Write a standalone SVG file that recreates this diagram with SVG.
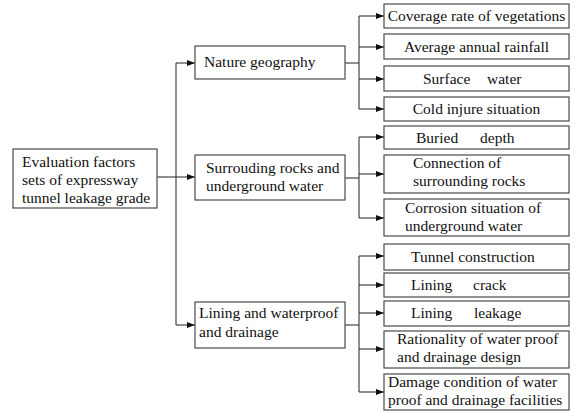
<svg xmlns="http://www.w3.org/2000/svg" width="574" height="412" viewBox="0 0 574 412">
<style>
.box{fill:#fff;stroke:#4a4a4a;stroke-width:1.2}
.t{font-family:'Liberation Serif','Times New Roman',Times,'DejaVu Serif',serif;font-size:15.5px;fill:#111}
.c{text-anchor:middle}
.ln{stroke:#333;stroke-width:1.1;fill:none}
.ar{stroke:#333;stroke-width:1.1;fill:none;marker-end:url(#ah)}
</style>
<defs>
<marker id="ah" markerUnits="userSpaceOnUse" markerWidth="9" markerHeight="7" refX="8" refY="3" orient="auto">
<path d="M0,0 L8,3 L0,6 z" fill="#111"/>
</marker>
</defs>
<g id="connectors">
<line class="ln" x1="157" y1="177" x2="176" y2="177"/>
<line class="ln" x1="176" y1="63" x2="176" y2="325"/>
<line class="ar" x1="176" y1="63" x2="195" y2="63"/>
<line class="ar" x1="176" y1="177" x2="195" y2="177"/>
<line class="ar" x1="176" y1="325" x2="195" y2="325"/>
<line class="ln" x1="345" y1="63" x2="359" y2="63"/>
<line class="ln" x1="359" y1="16" x2="359" y2="109"/>
<line class="ar" x1="359" y1="16" x2="384" y2="16"/>
<line class="ar" x1="359" y1="47" x2="384" y2="47"/>
<line class="ar" x1="359" y1="79" x2="384" y2="79"/>
<line class="ar" x1="359" y1="109" x2="384" y2="109"/>
<line class="ln" x1="345" y1="178" x2="359" y2="178"/>
<line class="ln" x1="359" y1="137" x2="359" y2="218"/>
<line class="ar" x1="359" y1="137" x2="384" y2="137"/>
<line class="ar" x1="359" y1="174" x2="384" y2="174"/>
<line class="ar" x1="359" y1="218" x2="384" y2="218"/>
<line class="ln" x1="345" y1="325" x2="359" y2="325"/>
<line class="ln" x1="359" y1="256" x2="359" y2="392"/>
<line class="ar" x1="359" y1="256" x2="384" y2="256"/>
<line class="ar" x1="359" y1="285" x2="384" y2="285"/>
<line class="ar" x1="359" y1="313" x2="384" y2="313"/>
<line class="ar" x1="359" y1="349" x2="384" y2="349"/>
<line class="ar" x1="359" y1="392" x2="384" y2="392"/>
</g>
<g id="root">
<rect class="box" x="13" y="149" width="144" height="59"/>
<text class="t" x="22" y="167">Evaluation factors</text>
<text class="t" x="22" y="185">sets of expressway</text>
<text class="t" x="22" y="203">tunnel leakage grade</text>
</g>
<g id="nature">
<rect class="box" x="195" y="46" width="150" height="33"/>
<text class="t" x="204" y="67">Nature geography</text>
</g>
<g id="rocks">
<rect class="box" x="195" y="155" width="150" height="45"/>
<text class="t" x="206" y="173">Surrouding rocks and</text>
<text class="t" x="206" y="191">underground water</text>
</g>
<g id="lining">
<rect class="box" x="195" y="302" width="150" height="46"/>
<text class="t" x="199" y="318">Lining and waterproof</text>
<text class="t" x="199" y="337">and drainage</text>
</g>
<g id="leaf1">
<rect class="box" x="384" y="4" width="185" height="24"/>
<text class="t c" x="476.5" y="21">Coverage rate of vegetations</text>
</g>
<g id="leaf2">
<rect class="box" x="384" y="34" width="185" height="25"/>
<text class="t c" x="476.5" y="52">Average annual rainfall</text>
</g>
<g id="leaf3">
<rect class="box" x="384" y="66" width="185" height="25"/>
<text class="t" y="84"><tspan x="423">Surface</tspan><tspan x="487">water</tspan></text>
</g>
<g id="leaf4">
<rect class="box" x="384" y="97" width="185" height="24"/>
<text class="t c" x="476.5" y="114">Cold injure situation</text>
</g>
<g id="leaf5">
<rect class="box" x="384" y="126" width="185" height="23"/>
<text class="t" y="143"><tspan x="416">Buried</tspan><tspan x="480">depth</tspan></text>
</g>
<g id="leaf6">
<rect class="box" x="384" y="155" width="185" height="38"/>
<text class="t" x="413" y="168">Connection of</text>
<text class="t" x="413" y="186">surrounding rocks</text>
</g>
<g id="leaf7">
<rect class="box" x="384" y="199" width="185" height="37"/>
<text class="t" x="405" y="213">Corrosion situation of</text>
<text class="t" x="405" y="231">underground water</text>
</g>
<g id="leaf8">
<rect class="box" x="384" y="244" width="185" height="26"/>
<text class="t" x="411" y="262">Tunnel construction</text>
</g>
<g id="leaf9">
<rect class="box" x="384" y="273" width="185" height="24"/>
<text class="t" y="290"><tspan x="411">Lining</tspan><tspan x="473">crack</tspan></text>
</g>
<g id="leaf10">
<rect class="box" x="384" y="301" width="185" height="25"/>
<text class="t" y="318"><tspan x="411">Lining</tspan><tspan x="474">leakage</tspan></text>
</g>
<g id="leaf11">
<rect class="box" x="384" y="331" width="185" height="37"/>
<text class="t" x="397" y="344">Rationality of water proof</text>
<text class="t" x="397" y="362">and drainage design</text>
</g>
<g id="leaf12">
<rect class="box" x="384" y="374" width="185" height="36"/>
<text class="t" x="388" y="387">Damage condition of water</text>
<text class="t" x="388" y="405">proof and drainage facilities</text>
</g>
</svg>
